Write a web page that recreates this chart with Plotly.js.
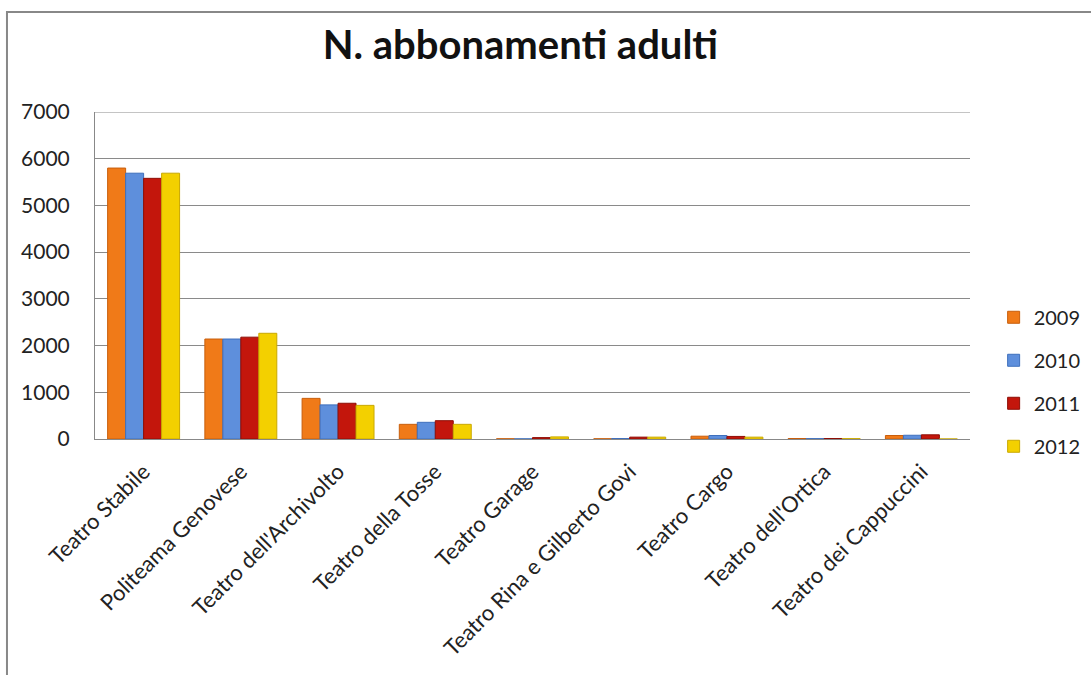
<!DOCTYPE html>
<html>
<head>
<meta charset="utf-8">
<script src="https://cdn.plot.ly/plotly-3.0.1.min.js"></script>
<style>html,body{margin:0;padding:0;background:#fff;}#chart{width:1091px;height:675px;}</style>
</head>
<body>
<div id="chart"></div>
<script>
const categories = ["Teatro Stabile", "Politeama Genovese", "Teatro dell'Archivolto", "Teatro della Tosse", "Teatro Garage", "Teatro Rina e Gilberto Govi", "Teatro Cargo", "Teatro dell'Ortica", "Teatro dei Cappuccini"];
const years = ["2009", "2010", "2011", "2012"];
const v2009 = [5800, 2140, 870, 314, 5, 5, 60, 10, 75];
const v2010 = [5690, 2140, 730, 357, 3, 10, 75, 8, 80];
const v2011 = [5580, 2180, 765, 392, 30, 40, 55, 10, 90];
const v2012 = [5690, 2263, 720, 314, 45, 40, 40, 8, 0];
const tickVals = [0, 1000, 2000, 3000, 4000, 5000, 6000, 7000];

const series = [v2009, v2010, v2011, v2012];
const colors = ["#F07A18", "#5E8FDC", "#C3160C", "#F3D000"];
const edge = ["#C85E0C", "#3E6FBC", "#8E0E06", "#C9A800"];

const traces = series.map((vals, i) => ({
  type: "bar",
  name: years[i],
  x: categories,
  y: vals,
  legendgroup: years[i],
  marker: {color: colors[i], line: {color: edge[i], width: 1}},
  hoverinfo: "x+y+name"
}));

const FONT = "Lato, 'Open Sans', sans-serif";
const layout = {
  width: 1091, height: 675,
  margin: {l: 95, r: 121, t: 112, b: 236, autoexpand: false},
  paper_bgcolor: "#fff", plot_bgcolor: "#fff",
  font: {family: FONT, color: "#222"},
  title: {text: "<b>N. abbonamenti adulti</b>", font: {size: 40, color: "#111", family: FONT}, x: 0.477, xanchor: "center", y: 0.933, yanchor: "middle"},
  barmode: "group",
  bargap: 0.26,
  bargroupgap: 0,
  xaxis: {
    tickangle: -45,
    tickfont: {size: 22, color: "#222"},
    showgrid: false,
    showline: true, linecolor: "#888", linewidth: 1,
    ticks: "", automargin: false,
    ticklabelstandoff: 10
  },
  yaxis: {
    range: [0, 7000],
    tickvals: tickVals,
    ticktext: tickVals.map(String),
    tickfont: {size: 21, color: "#222"},
    showgrid: true, gridcolor: "#8a8a8a", gridwidth: 1,
    showline: true, linecolor: "#888", linewidth: 1,
    zeroline: false, ticks: "", ticklen: 0, automargin: false,
    ticklabelstandoff: 20
  },
  legend: {
    x: 1.027, xanchor: "left", y: 0.175, yanchor: "middle",
    font: {size: 20, color: "#222"},
    traceorder: "grouped", tracegroupgap: 14,
    itemwidth: 30
  },
  shapes: [{
    type: "rect", xref: "paper", yref: "paper",
    x0: -0.1006, x1: 1.2, y0: -0.8, y1: 1.306,
    line: {color: "#888", width: 2}, fillcolor: "rgba(0,0,0,0)", layer: "below"
  }, {
    type: "line", xref: "paper", yref: "y",
    x0: 0, x1: 1, y0: 7000, y1: 7000,
    line: {color: "#8a8a8a", width: 1}, layer: "below"
  }],
  showlegend: true
};

Plotly.newPlot("chart", traces, layout, {displayModeBar: false, staticPlot: true});
</script>
</body>
</html>
